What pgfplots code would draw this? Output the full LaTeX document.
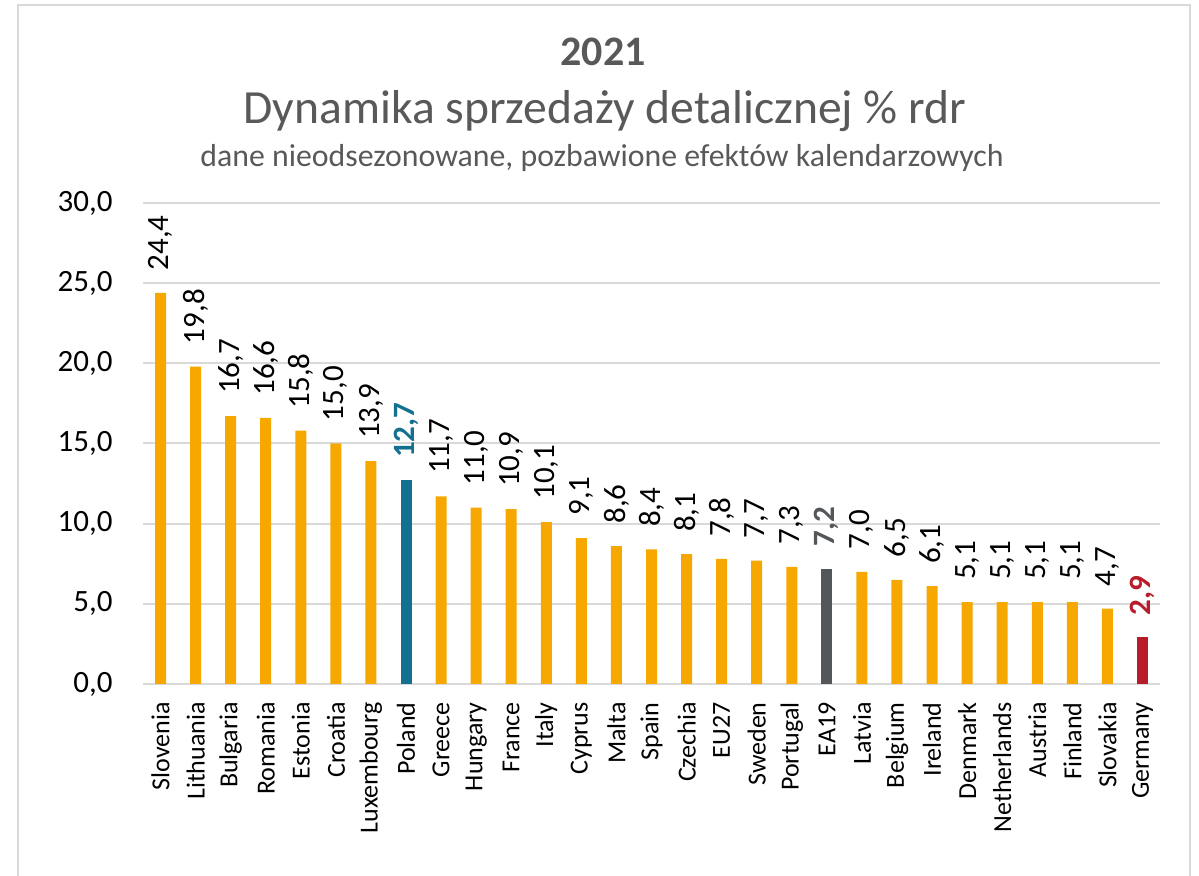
\documentclass[border=0pt]{standalone}
\usepackage{pgfplots}
\pgfplotsset{compat=1.18}
\usepackage{fontspec}
\setmainfont{Carlito}
\definecolor{barorange}{HTML}{F6A800}
\definecolor{barteal}{HTML}{13718F}
\definecolor{bargrey}{HTML}{53575A}
\definecolor{barred}{HTML}{B81C2B}
\definecolor{titlegrey}{HTML}{595959}
\definecolor{gridgrey}{HTML}{D9D9D9}
\begin{document}
\begin{tikzpicture}[x=0.5pt,y=0.5pt]
\path[use as bounding box] (0,0) rectangle (1199,876);
\draw[gridgrey, line width=1.2pt] (18,0) -- (18,871) -- (1190,871) -- (1190,0);
\node[font=\fontsize{21}{25}\selectfont\bfseries, text=titlegrey] at (603,824) {2021};
\node[font=\fontsize{23.8}{28}\selectfont, text=titlegrey] at (605,765) {Dynamika sprzedaży detalicznej \% rdr};
\node[font=\fontsize{15.9}{19}\selectfont, text=titlegrey] at (602,718) {dane nieodsezonowane, pozbawione efektów kalendarzowych};
\begin{axis}[
  at={(71.5pt,96pt)}, anchor=south west,
  scale only axis, width=508.5pt, height=240.5pt,
  xmin=-0.5, xmax=28.5, ymin=0, ymax=30,
  ytick={0,5,...,30},
  xtick={0,...,28},
  xticklabels={Slovenia,Lithuania,Bulgaria,Romania,Estonia,Croatia,Luxembourg,Poland,Greece,Hungary,France,Italy,Cyprus,Malta,Spain,Czechia,EU27,Sweden,Portugal,EA19,Latvia,Belgium,Ireland,Denmark,Netherlands,Austria,Finland,Slovakia,Germany},
  ymajorgrids, grid style={gridgrey, line width=1pt},
  axis line style={draw=none},
  major tick length=0pt,
  /pgf/number format/.cd, fixed, fixed zerofill, precision=1, use comma, assume math mode=true,
  /pgfplots/.cd,
  yticklabel style={font=\fontsize{15.5}{18}\selectfont, anchor=east, inner sep=0pt, xshift=-15pt},
  xticklabel style={font=\fontsize{13}{15}\selectfont, yshift=-9pt, rotate=90, anchor=east, inner sep=0pt},
  ybar, bar width=5.5pt, bar shift=0pt,
  nodes near coords,
  every node near coord/.append style={font=\fontsize{15.5}{18}\selectfont, yshift=11pt, rotate=90, anchor=west, inner sep=0pt},
]
\addplot[fill=barorange, draw=none] coordinates {
(0,24.4) (1,19.8) (2,16.7) (3,16.6) (4,15.8) (5,15.0) (6,13.9)
(8,11.7) (9,11.0) (10,10.9) (11,10.1) (12,9.1) (13,8.6) (14,8.4) (15,8.1) (16,7.8) (17,7.7) (18,7.3)
(20,7.0) (21,6.5) (22,6.1) (23,5.1) (24,5.1) (25,5.1) (26,5.1) (27,4.7)};
\addplot[fill=barteal, draw=none, nodes near coords style={text=barteal, font=\fontsize{15.5}{18}\selectfont\bfseries}] coordinates {(7,12.7)};
\addplot[fill=bargrey, draw=none, nodes near coords style={text=bargrey, font=\fontsize{15.5}{18}\selectfont\bfseries}] coordinates {(19,7.2)};
\addplot[fill=barred, draw=none, nodes near coords style={text=barred, font=\fontsize{15.5}{18}\selectfont\bfseries}] coordinates {(28,2.9)};
\end{axis}
\end{tikzpicture}
\end{document}
